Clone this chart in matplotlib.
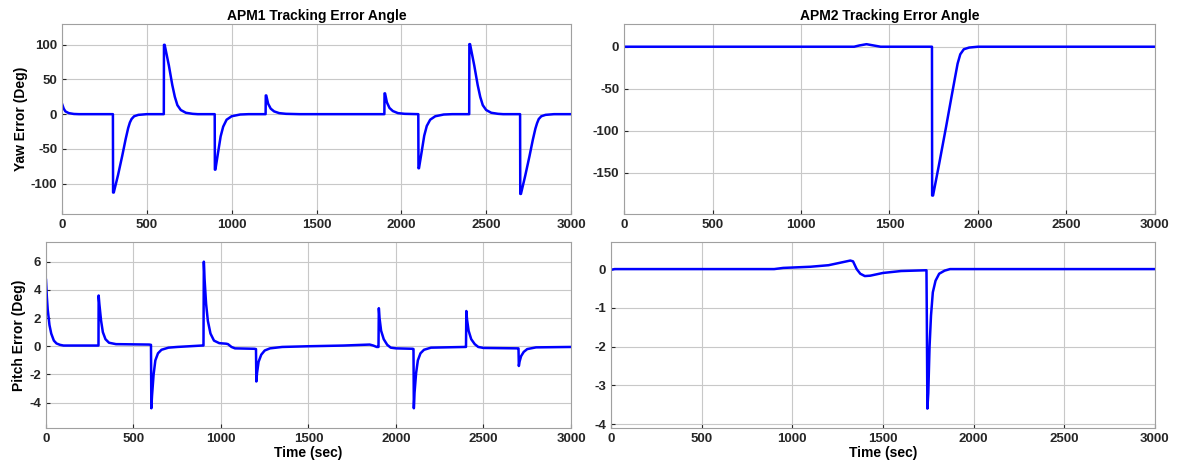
import numpy as np
import matplotlib
matplotlib.use('Agg')
import matplotlib.pyplot as plt

# APM1 yaw error (deg) vs time (sec)
yaw1_t = [0, 10, 20, 40, 70, 100, 300, 301, 305, 330, 355, 375, 390, 400, 410, 425, 450, 500,
          600, 601, 605, 630, 650, 665, 680, 700, 730, 770, 800,
          900, 901, 904, 920, 935, 950, 970, 1000, 1050, 1100,
          1200, 1201, 1204, 1215, 1230, 1250, 1280, 1320, 1400,
          1900, 1901, 1904, 1915, 1930, 1950, 1980, 2020, 2100,
          2101, 2104, 2120, 2135, 2150, 2170, 2200, 2250, 2300,
          2400, 2401, 2405, 2430, 2450, 2465, 2480, 2500, 2530, 2570, 2600,
          2700, 2701, 2705, 2730, 2755, 2775, 2790, 2800, 2810, 2825, 2850, 2900, 3000]
yaw1_v = [15, 8, 4, 1.5, 0.3, 0, 0, -113, -113, -88, -60, -36, -20, -12, -7, -3, -1, 0,
          0, 100, 100, 70, 42, 25, 13, 6, 2, 0.5, 0,
          0, -80, -80, -55, -32, -18, -8, -3, -0.5, 0,
          0, 27, 27, 15, 8, 4, 1.5, 0.5, 0,
          0, 30, 30, 17, 9, 4.5, 1.5, 0.5, 0,
          -78, -78, -54, -31, -17, -8, -3, -0.5, 0,
          0, 101, 101, 70, 42, 25, 13, 6, 2, 0.5, 0,
          0, -115, -115, -89, -61, -37, -21, -13, -7, -3, -1, 0, 0]

# APM2 yaw error
yaw2_t = [0, 1300, 1330, 1370, 1410, 1450, 1740, 1741, 1746, 1780, 1820, 1850,
          1870, 1885, 1900, 1920, 1950, 2000, 3000]
yaw2_v = [0, 0, 1.5, 3, 1.5, 0, 0, -177, -177, -140, -95, -60,
          -37, -20, -9, -3, -1, 0, 0]

# APM1 pitch error
pitch1_t = [0, 5, 10, 20, 30, 45, 60, 80, 100, 300,
            301, 305, 315, 325, 340, 360, 400, 590, 600,
            602, 606, 615, 625, 640, 660, 700, 750, 890, 900,
            902, 906, 915, 925, 940, 960, 990, 1030, 1040, 1060, 1080, 1190, 1200,
            1202, 1206, 1215, 1230, 1250, 1280, 1350, 1500, 1700, 1850, 1870, 1890, 1900,
            1902, 1906, 1915, 1930, 1950, 1970, 2000, 2095, 2100,
            2102, 2106, 2115, 2125, 2140, 2160, 2200, 2395, 2400,
            2402, 2406, 2415, 2430, 2450, 2470, 2500, 2695, 2700,
            2702, 2706, 2715, 2730, 2750, 2800, 3000]
pitch1_v = [4.7, 3.5, 2.6, 1.5, 0.9, 0.4, 0.2, 0.1, 0.05, 0.05,
            3.6, 3.0, 1.8, 1.0, 0.5, 0.25, 0.15, 0.12, 0.1,
            -4.4, -3.5, -2.0, -1.0, -0.5, -0.25, -0.1, -0.05, 0.05, 0.05,
            6.0, 4.8, 3.0, 1.8, 0.9, 0.4, 0.22, 0.18, 0.15, -0.05, -0.15, -0.18, -0.2,
            -2.5, -1.9, -1.1, -0.6, -0.3, -0.15, -0.05, 0.0, 0.05, 0.12, 0.05, -0.05, -0.05,
            2.7, 2.0, 1.1, 0.5, 0.1, -0.1, -0.15, -0.18, -0.2,
            -4.4, -3.3, -1.9, -1.0, -0.5, -0.25, -0.1, -0.05, -0.05,
            2.5, 1.9, 1.1, 0.5, 0.15, -0.05, -0.12, -0.15, -0.15,
            -1.4, -1.1, -0.7, -0.4, -0.2, -0.08, -0.05]

# APM2 pitch error
pitch2_t = [0, 20, 900, 950, 1100, 1200, 1280, 1320, 1335, 1355, 1375, 1400, 1430,
            1500, 1600, 1740, 1742, 1745, 1750, 1757, 1765, 1775, 1790, 1810, 1840,
            1870, 3000]
pitch2_v = [-0.02, 0, 0, 0.03, 0.06, 0.1, 0.18, 0.22, 0.2, 0.0, -0.12, -0.18, -0.17,
            -0.1, -0.05, -0.03, -1.3, -3.6, -3.2, -2.0, -1.2, -0.6, -0.3, -0.12, -0.04,
            0, 0]

plt.rcParams['font.family'] = ['Liberation Sans', 'DejaVu Sans']
plt.rcParams['font.weight'] = 'bold'
plt.rcParams['axes.unicode_minus'] = False

fig = plt.figure(figsize=(11.79, 4.71), dpi=100)

ax1 = fig.add_axes([0.0526, 0.5456, 0.4317, 0.4034])
ax2 = fig.add_axes([0.5293, 0.5456, 0.4503, 0.4034])
ax3 = fig.add_axes([0.0390, 0.0913, 0.4453, 0.3950])
ax4 = fig.add_axes([0.5182, 0.0913, 0.4614, 0.3950])

panels = [
    (ax1, yaw1_t, yaw1_v, (-144, 130), [-100, -50, 0, 50, 100]),
    (ax2, yaw2_t, yaw2_v, (-199, 27), [-150, -100, -50, 0]),
    (ax3, pitch1_t, pitch1_v, (-5.8, 7.4), [-4, -2, 0, 2, 4, 6]),
    (ax4, pitch2_t, pitch2_v, (-4.1, 0.7), [-4, -3, -2, -1, 0]),
]

for ax, t, v, ylim, yt in panels:
    ax.plot(t, v, color='#0000ff', linewidth=1.8)
    ax.set_xlim(0, 3000)
    ax.set_ylim(*ylim)
    ax.set_xticks([0, 500, 1000, 1500, 2000, 2500, 3000])
    ax.set_yticks(yt)
    ax.grid(True, color='#c8c8c8', linewidth=0.8)
    ax.tick_params(direction='in', labelsize=9.5, length=3, colors='#262626',
                   labelcolor='#262626')
    for lbl in ax.get_xticklabels() + ax.get_yticklabels():
        lbl.set_fontweight('bold')
    for s in ax.spines.values():
        s.set_color('#a0a0a0')
        s.set_linewidth(0.8)

ax1.set_title('APM1 Tracking Error Angle', fontsize=10, fontweight='bold', pad=3)
ax2.set_title('APM2 Tracking Error Angle', fontsize=10, fontweight='bold', pad=3)
ax1.set_ylabel('Yaw Error (Deg)', fontsize=10, fontweight='bold', labelpad=2)
ax3.set_ylabel('Pitch Error (Deg)', fontsize=10, fontweight='bold', labelpad=2)
ax3.set_xlabel('Time (sec)', fontsize=10, fontweight='bold', labelpad=1)
ax4.set_xlabel('Time (sec)', fontsize=10, fontweight='bold', labelpad=1)

fig.savefig('out.png', dpi=100)
